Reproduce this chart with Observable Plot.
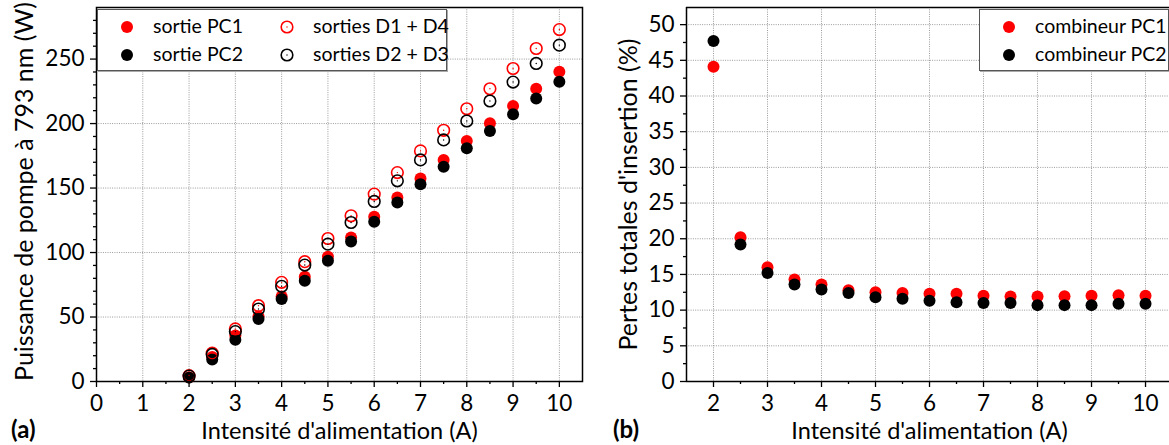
<!DOCTYPE html>
<html><head><meta charset="utf-8">
<script src="https://cdn.jsdelivr.net/npm/d3@7"></script>
<script src="https://cdn.jsdelivr.net/npm/@observablehq/plot@0.6"></script>
<style>
body{margin:0;background:#fff;font-family:Lato,sans-serif;}
#wrap{position:relative;width:1169px;height:445px;overflow:hidden;background:#fff;}
.panel{position:absolute;top:0;}
.legend{position:absolute;background:#fff;border:1.5px solid #555;box-sizing:border-box;box-shadow:1px 1px 0 #aaa;}
.legend svg{position:absolute;left:0;top:0;}
.legend span{position:absolute;font-size:19.5px;line-height:20px;white-space:nowrap;color:#000;}
.tag{position:absolute;font-weight:bold;font-size:24px;line-height:24px;color:#000;}
</style></head>
<body><div id="wrap"></div>
<script>
// ---- data ----
const current = [2, 2.5, 3, 3.5, 4, 4.5, 5, 5.5, 6, 6.5, 7, 7.5, 8, 8.5, 9, 9.5, 10];
const sortiePC1 = [3.2, 19, 35.6, 50.5, 66, 81.3, 96.7, 111.7, 127.7, 142.6, 157.4, 171.8, 186.5, 200.2, 213.6, 227, 240.2];
const sortiePC2 = [3, 17, 32.3, 48.5, 64, 78.2, 93.7, 108.6, 123.8, 138.8, 153, 166.6, 180.9, 194.3, 207.2, 219.5, 232.4];
const sortiesD1D4 = [4.6, 22, 40.8, 58.8, 76.9, 92.9, 110.9, 128.5, 145.3, 162, 178.8, 194.8, 211.5, 227, 242.7, 258.2, 272.9];
const sortiesD2D3 = [4.2, 21, 38.7, 56.2, 73.8, 90.3, 106.5, 123.3, 139.6, 155.6, 171.8, 187.3, 202, 217.5, 232.2, 246.6, 260.8];
const combineurPC1 = [44.1, 20.2, 16.0, 14.3, 13.6, 12.8, 12.5, 12.4, 12.3, 12.3, 12.0, 11.9, 11.9, 11.95, 12.0, 12.1, 12.0];
const combineurPC2 = [47.7, 19.2, 15.2, 13.6, 12.9, 12.4, 11.8, 11.6, 11.3, 11.1, 11.0, 11.0, 10.7, 10.7, 10.7, 10.9, 10.9];

const xTicksA = [0, 1, 2, 3, 4, 5, 6, 7, 8, 9, 10];
const xMinorA = [0.5, 1.5, 2.5, 3.5, 4.5, 5.5, 6.5, 7.5, 8.5, 9.5];
const yTicksA = [0, 50, 100, 150, 200, 250];
const yMinorA = [10, 20, 30, 40, 60, 70, 80, 90, 110, 120, 130, 140, 160, 170, 180, 190, 210, 220, 230, 240, 260, 270, 280];
const xTicksB = [2, 3, 4, 5, 6, 7, 8, 9, 10];
const xMinorB = [2.5, 3.5, 4.5, 5.5, 6.5, 7.5, 8.5, 9.5];
const yTicksB = [0, 5, 10, 15, 20, 25, 30, 35, 40, 45, 50];
const yMinorB = [2.5, 7.5, 12.5, 17.5, 22.5, 27.5, 32.5, 37.5, 42.5, 47.5];

const xTitle = "Intensité d'alimentation (A)";
const yTitleA = "Puissance de pompe à 793 nm (W)";
const yTitleB = "Pertes totales d'insertion (%)";
const legendA = ["sortie PC1", "sortie PC2", "sorties D1 + D4", "sorties D2 + D3"];
const legendB = ["combineur PC1", "combineur PC2"];

const rows = (ys) => current.map((x, i) => ({x, y: ys[i]}));
const RED = "#ff0000";
const gridStyle = {stroke: "#9a9a9a", strokeOpacity: 1, strokeWidth: 1, strokeDasharray: "1,1.3"};
const font = {fontFamily: "Lato, sans-serif", fontSize: "22.5px", color: "#000", background: "transparent", overflow: "visible"};

const left = Plot.plot({
  width: 584, height: 445,
  marginLeft: 96, marginRight: 2, marginTop: 7, marginBottom: 64,
  x: {domain: [0, 10.5]},
  y: {domain: [0, 290]},
  style: font,
  marks: [
    Plot.gridX(xTicksA.slice(1), gridStyle),
    Plot.gridY(yTicksA.slice(1), gridStyle),
    Plot.axisX(xMinorA, {tickSize: 3, tickFormat: () => "", label: null, strokeWidth: 1.3}),
    Plot.axisX(xTicksA, {tickSize: 6, tickPadding: 8, label: null, strokeWidth: 1.3}),
    Plot.axisY(yMinorA, {tickSize: 3, tickFormat: () => "", label: null, strokeWidth: 1.3}),
    Plot.axisY(yTicksA, {tickSize: 6, tickPadding: 6, label: null, strokeWidth: 1.3}),
    Plot.frame({stroke: "#000", strokeWidth: 1.5}),
    Plot.dot(rows(sortiePC1), {x: "x", y: "y", r: 6, fill: RED}),
    Plot.dot(rows(sortiePC2), {x: "x", y: "y", r: 6, fill: "#000"}),
    Plot.dot(rows(sortiesD1D4), {x: "x", y: "y", r: 5.8, fill: "none", stroke: RED, strokeWidth: 1.6}),
    Plot.dot(rows(sortiesD1D4), {x: "x", y: "y", r: 0.7, fill: RED}),
    Plot.dot(rows(sortiesD2D3), {x: "x", y: "y", r: 5.8, fill: "none", stroke: "#000", strokeWidth: 1.6}),
    Plot.dot(rows(sortiesD2D3), {x: "x", y: "y", r: 0.7, fill: "#000"}),
    Plot.text([xTitle], {frameAnchor: "bottom", dy: 50, lineAnchor: "middle", textAnchor: "middle", fontSize: 23.5}),
    Plot.text([yTitleA], {frameAnchor: "left", dx: -72, dy: -3, rotate: -90, lineAnchor: "middle", textAnchor: "middle", fontSize: 25})
  ]
});

const right = Plot.plot({
  width: 585, height: 445,
  marginLeft: 102, marginRight: 0, marginTop: 7, marginBottom: 64,
  x: {domain: [1.5, 10.444]},
  y: {domain: [0, 52.4]},
  style: font,
  marks: [
    Plot.gridX(xTicksB, gridStyle),
    Plot.gridY(yTicksB.slice(1), gridStyle),
    Plot.axisX(xMinorB, {tickSize: 3, tickFormat: () => "", label: null, strokeWidth: 1.3}),
    Plot.axisX(xTicksB, {tickSize: 6, tickPadding: 8, label: null, strokeWidth: 1.3}),
    Plot.axisY(yMinorB, {tickSize: 3, tickFormat: () => "", label: null, strokeWidth: 1.3}),
    Plot.axisY(yTicksB, {tickSize: 6, tickPadding: 6, label: null, strokeWidth: 1.3}),
    Plot.ruleX([1.5], {stroke: "#000", strokeWidth: 1.5}),
    Plot.ruleY([0, 52.4], {stroke: "#000", strokeWidth: 1.5}),
    Plot.dot(rows(combineurPC1), {x: "x", y: "y", r: 6, fill: RED}),
    Plot.dot(rows(combineurPC2), {x: "x", y: "y", r: 6, fill: "#000"}),
    Plot.text([xTitle], {x: 6, frameAnchor: "bottom", dy: 50, lineAnchor: "middle", textAnchor: "middle", fontSize: 23.5}),
    Plot.text([yTitleB], {frameAnchor: "left", dx: -58, rotate: -90, lineAnchor: "middle", textAnchor: "middle", fontSize: 25})
  ]
});

const wrap = document.getElementById("wrap");
left.classList.add("panel"); left.style.left = "0px";
right.classList.add("panel"); right.style.left = "584px";
wrap.appendChild(left);
wrap.appendChild(right);

function legend(box, items) {
  const d = document.createElement("div");
  d.className = "legend";
  Object.assign(d.style, {left: box.left + "px", top: box.top + "px", width: box.width + "px", height: box.height + "px"});
  const ns = "http://www.w3.org/2000/svg";
  const svg = document.createElementNS(ns, "svg");
  svg.setAttribute("width", box.width); svg.setAttribute("height", box.height);
  d.appendChild(svg);
  for (const it of items) {
    const c = document.createElementNS(ns, "circle");
    c.setAttribute("cx", it.sx); c.setAttribute("cy", it.cy);
    if (it.open) {
      c.setAttribute("r", 5.8); c.setAttribute("fill", "none");
      c.setAttribute("stroke", it.color); c.setAttribute("stroke-width", 1.6);
      const cd = document.createElementNS(ns, "circle");
      cd.setAttribute("cx", it.sx); cd.setAttribute("cy", it.cy);
      cd.setAttribute("r", 0.7); cd.setAttribute("fill", it.color);
      svg.appendChild(cd);
    } else {
      c.setAttribute("r", 6); c.setAttribute("fill", it.color);
    }
    svg.appendChild(c);
    const s = document.createElement("span");
    s.textContent = it.label;
    s.style.left = it.tx + "px";
    s.style.top = (it.cy - 11) + "px";
    d.appendChild(s);
  }
  wrap.appendChild(d);
}
legend({left: 97, top: 9, width: 350, height: 62}, [
  {label: legendA[0], color: RED, open: false, sx: 29, tx: 55, cy: 17},
  {label: legendA[1], color: "#000", open: false, sx: 29, tx: 55, cy: 45},
  {label: legendA[2], color: RED, open: true, sx: 189, tx: 215, cy: 17},
  {label: legendA[3], color: "#000", open: true, sx: 189, tx: 215, cy: 45}
]);
legend({left: 979, top: 9, width: 190, height: 62}, [
  {label: legendB[0], color: RED, open: false, sx: 29, tx: 55, cy: 17},
  {label: legendB[1], color: "#000", open: false, sx: 29, tx: 55, cy: 45}
]);

function tag(t, x) {
  const s = document.createElement("div");
  s.className = "tag"; s.textContent = t;
  s.style.left = x + "px"; s.style.top = "417px";
  wrap.appendChild(s);
}
tag("(a)", 11);
tag("(b)", 613);
</script></body></html>
